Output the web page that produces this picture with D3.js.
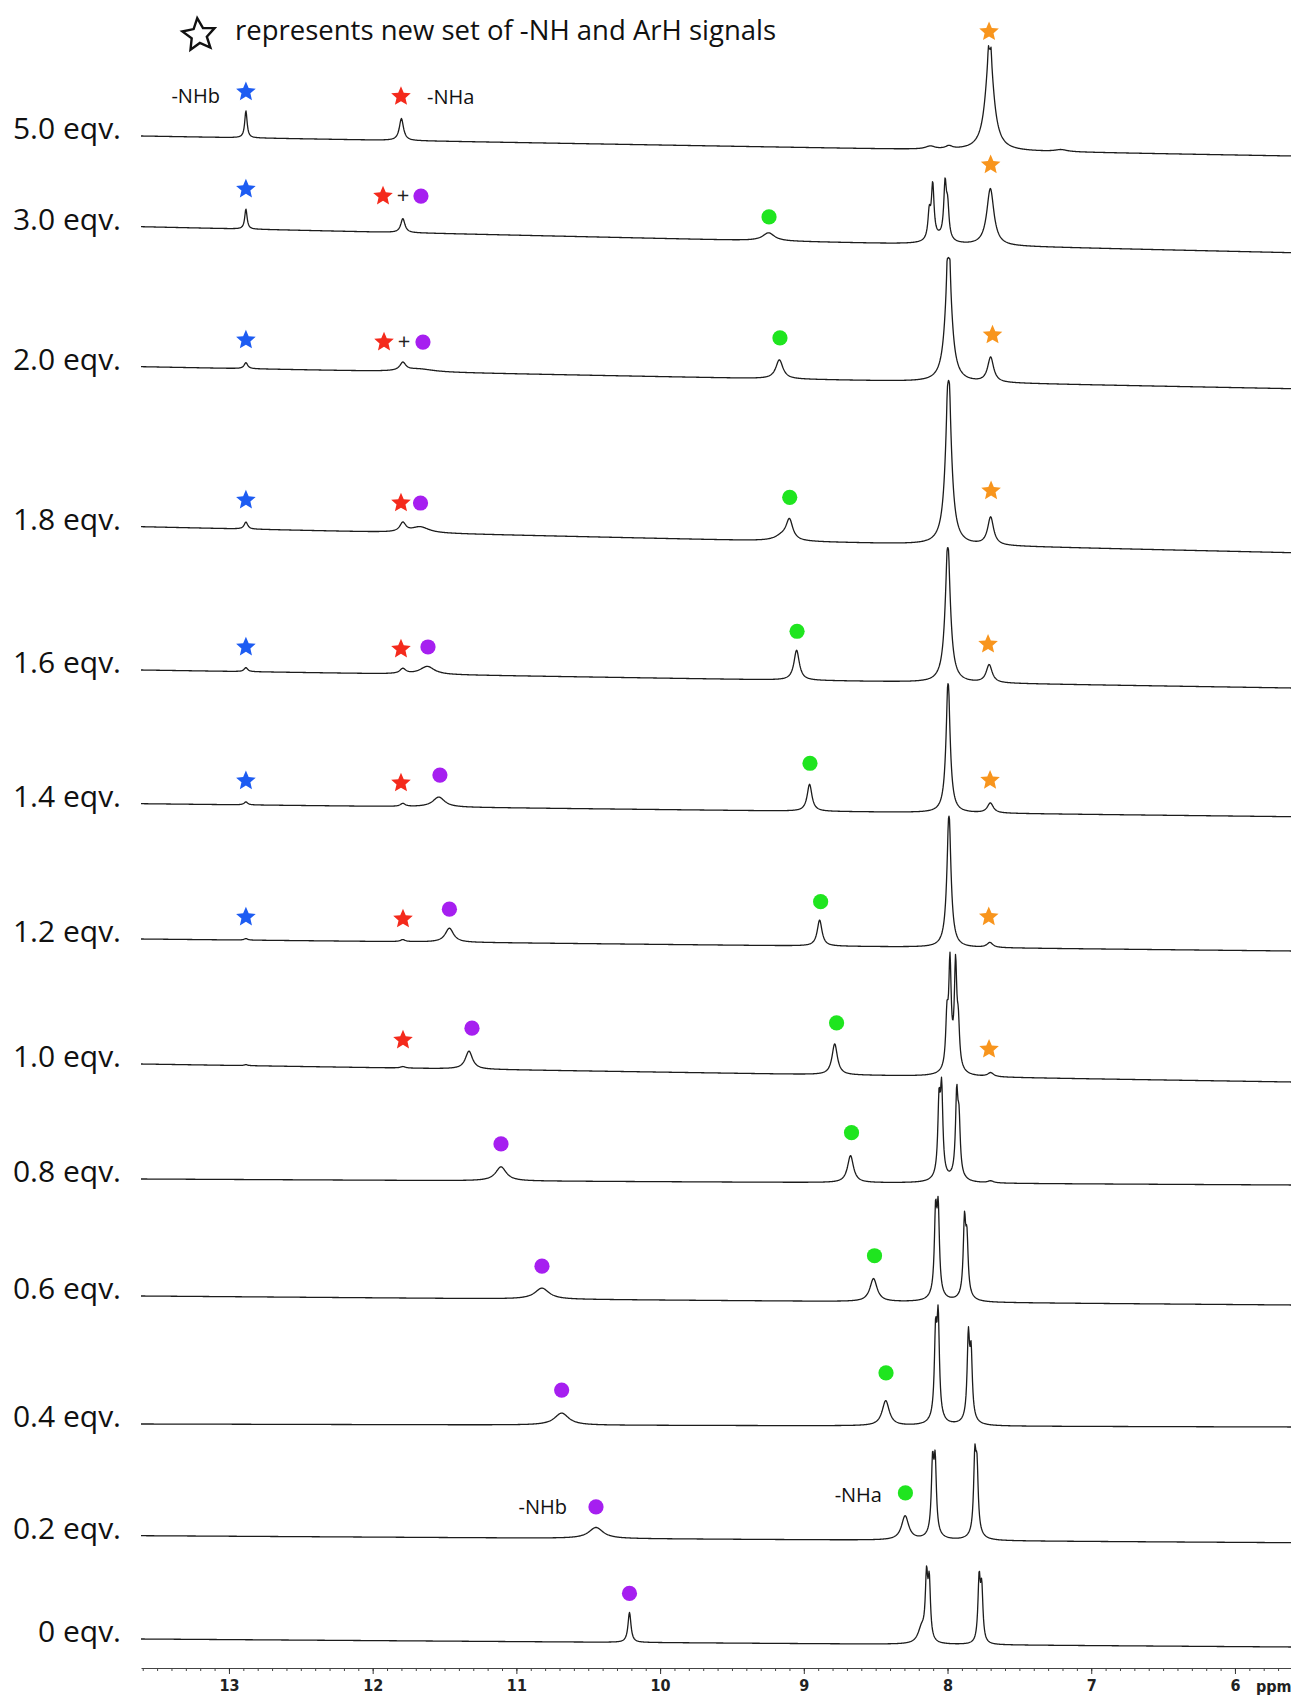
<!DOCTYPE html>
<html>
<head>
<meta charset="utf-8">
<script src="https://cdn.jsdelivr.net/npm/d3@7"></script>
<style>
  body { margin: 0; background: #fff; }
  svg { display: block; }
</style>
</head>
<body>
<svg id="chart" width="1291" height="1701"></svg>
<script>
// ---- data -----------------------------------------------------------------

// titration steps, top trace first
const titrationLabels = ["5.0 eqv.", "3.0 eqv.", "2.0 eqv.", "1.8 eqv.", "1.6 eqv.", "1.4 eqv.",
  "1.2 eqv.", "1.0 eqv.", "0.8 eqv.", "0.6 eqv.", "0.4 eqv.", "0.2 eqv.", "0 eqv."];

// resonances of each trace: [shift / ppm, intensity, line width / ppm]
const peaks5_0 = [[12.882, 27, 0.02], [11.800, 22, 0.035], [8.12, 3, 0.08], [7.99, 3, 0.06],
  [7.707, 98, 0.07], [7.716, 12, 0.008], [7.697, 12, 0.008], [7.21, 2, 0.1]];
const peaks3_0 = [[12.882, 20, 0.02], [11.79, 14, 0.035], [9.245, 8, 0.1], [8.127, 26, 0.022],
  [8.103, 53, 0.022], [8.017, 53, 0.022], [7.999, 30, 0.022], [8.06, 6, 0.15], [7.702, 57, 0.06]];
const peaks2_0 = [[12.882, 6, 0.03], [11.79, 8, 0.05], [11.68, 3, 0.25], [9.17, 19, 0.06],
  [7.993, 120, 0.055], [8.003, 16, 0.008], [7.983, 16, 0.008], [7.700, 25, 0.05]];
const peaks1_8 = [[12.882, 7, 0.03], [11.79, 9, 0.05], [11.67, 6, 0.15], [9.15, 5, 0.12],
  [9.10, 20, 0.055], [7.993, 160, 0.05], [8.002, 12, 0.008], [7.985, 12, 0.008], [7.700, 28, 0.05]];
const peaks1_6 = [[12.882, 4, 0.03], [11.79, 5, 0.05], [11.62, 8, 0.12], [9.05, 30, 0.045],
  [7.998, 130, 0.045], [8.004, 8, 0.008], [7.992, 8, 0.008], [7.710, 18, 0.05]];
const peaks1_4 = [[12.882, 3, 0.03], [11.79, 3, 0.04], [11.54, 10, 0.1], [8.96, 27, 0.04],
  [7.996, 126, 0.035], [8.001, 6, 0.006], [7.991, 6, 0.006], [7.702, 10, 0.05]];
const peaks1_2 = [[12.882, 1.5, 0.03], [11.79, 2, 0.04], [11.466, 14, 0.07], [8.89, 26, 0.04],
  [7.990, 128, 0.035], [7.995, 6, 0.006], [7.985, 6, 0.006], [7.705, 5, 0.05]];
const peaks1_0 = [[12.882, 1, 0.03], [11.79, 1.5, 0.04], [11.33, 18, 0.06], [8.785, 31, 0.045],
  [8.004, 48, 0.02], [7.983, 100, 0.02], [7.944, 98, 0.02], [7.925, 38, 0.02], [7.962, 10, 0.1],
  [7.70, 4, 0.05]];
const peaks0_8 = [[11.107, 14, 0.09], [8.675, 27, 0.05], [8.059, 70, 0.02], [8.041, 82, 0.02],
  [7.936, 78, 0.02], [7.920, 50, 0.02], [8.05, 5, 0.1], [7.93, 5, 0.1], [7.70, 2, 0.05]];
const peaks0_6 = [[10.822, 11, 0.12], [8.515, 23, 0.06], [8.083, 78, 0.02], [8.065, 80, 0.02],
  [7.882, 72, 0.02], [7.865, 52, 0.02], [8.074, 6, 0.1], [7.873, 5, 0.1]];
const peaks0_4 = [[10.685, 12, 0.12], [8.43, 25, 0.06], [8.083, 80, 0.02], [8.065, 95, 0.02],
  [7.855, 80, 0.02], [7.836, 62, 0.02], [8.074, 6, 0.1], [7.846, 5, 0.1]];
const peaks0_2 = [[10.446, 11, 0.12], [8.295, 24, 0.06], [8.104, 68, 0.02], [8.086, 68, 0.02],
  [7.810, 72, 0.02], [7.795, 60, 0.02], [8.095, 5, 0.1], [7.80, 5, 0.1]];
const peaks0_0 = [[10.213, 30, 0.025], [8.18, 15, 0.06], [8.146, 60, 0.02], [8.127, 56, 0.02],
  [7.780, 62, 0.02], [7.762, 51, 0.02]];

// baseline drift of each trace (intensity reached at the high-field end)
const baselineDrift = [-20, -26, -22, -26, -18, -13, -12, -18, -6, -9, -3, -7, -8];

// signal assignments: [shift / ppm, marker, level above baseline]
const marks5_0 = [[12.882, "blue", 46], [11.803, "red", 44], [7.711, "orange", 119]];
const marks3_0 = [[12.882, "blue", 40], [11.928, "red", 36], [11.789, "plus", 37], [11.664, "purple", 37],
  [9.242, "green", 24], [7.700, "orange", 81]];
const marks2_0 = [[12.882, "blue", 28.7], [11.921, "red", 29.3], [11.782, "plus", 30], [11.650, "purple", 30],
  [9.166, "green", 41], [7.687, "orange", 48]];
const marks1_8 = [[12.882, "blue", 29], [11.803, "red", 29.6], [11.667, "purple", 30],
  [9.098, "green", 44], [7.697, "orange", 55]];
const marks1_6 = [[12.882, "blue", 24.6], [11.803, "red", 25], [11.615, "purple", 27.5],
  [9.047, "green", 49], [7.718, "orange", 39]];
const marks1_4 = [[12.882, "blue", 24], [11.803, "red", 23.6], [11.532, "purple", 32],
  [8.957, "green", 48], [7.704, "orange", 33]];
const marks1_2 = [[12.882, "blue", 23], [11.789, "red", 22.7], [11.466, "purple", 33],
  [8.883, "green", 44.4], [7.713, "orange", 31]];
const marks1_0 = [[11.789, "red", 28], [11.309, "purple", 41], [8.772, "green", 52], [7.711, "orange", 28]];
const marks0_8 = [[11.107, "purple", 37], [8.668, "green", 50]];
const marks0_6 = [[10.822, "purple", 33], [8.508, "green", 46]];
const marks0_4 = [[10.685, "purple", 35], [8.428, "green", 53]];
const marks0_2 = [[10.446, "purple", 31.5], [8.293, "green", 47.4]];
const marks0_0 = [[10.213, "purple", 49]];

// proton labels: [trace index, text, shift / ppm, level]
const protonLabels = [[0, "-NHb", 13.063, 34.4], [0, "-NHa", 11.622, 37], [11, "-NHb", 10.648, 24.3], [11, "-NHa", 8.456, 38]];

const axisTicks = [13, 12, 11, 10, 9, 8, 7, 6];
const legendText = "represents new set of -NH and ArH signals";

// ---- layout ---------------------------------------------------------------

const peakSets = [peaks5_0, peaks3_0, peaks2_0, peaks1_8, peaks1_6, peaks1_4, peaks1_2,
  peaks1_0, peaks0_8, peaks0_6, peaks0_4, peaks0_2, peaks0_0];
const markSets = [marks5_0, marks3_0, marks2_0, marks1_8, marks1_6, marks1_4, marks1_2,
  marks1_0, marks0_8, marks0_6, marks0_4, marks0_2, marks0_0];
const traceBaseY = [136, 226.7, 366.7, 526.7, 670, 803.7, 939, 1064, 1179, 1296, 1424, 1535.7, 1639];
const anchorOf = ["end", "start", "end", "end"];

const W = 1291;
const svg = d3.select("#chart");
const ppmLeft = 13.612, ppmRight = 5.610;
const x = d3.scaleLinear().domain([ppmLeft, ppmRight]).range([141, W]);

const colors = { blue: "#1d5cf2", red: "#f42a1c", orange: "#f8951d", purple: "#a61ff0", green: "#1fe51f" };

function lorentz(p, pk) {
  const g = pk[2] / 2, d = p - pk[0];
  return pk[1] * g * g / (d * d + g * g);
}
function drift(i, p) {
  return baselineDrift[i] * (ppmLeft - p) / (ppmLeft - ppmRight);
}
function starPath(R, r) {
  const pts = d3.range(10).map(k => {
    const a = -Math.PI / 2 + k * Math.PI / 5, rad = k % 2 ? r : R;
    return [rad * Math.cos(a), rad * Math.sin(a)];
  });
  return d3.line()(pts) + "Z";
}

// ---- traces ---------------------------------------------------------------

const traces = svg.append("g");
peakSets.forEach((peaks, i) => {
  const y = d3.scaleLinear().domain([0, 100]).range([traceBaseY[i], traceBaseY[i] - 100]);
  const pts = [];
  for (let px = 141; px <= W; px += 0.5) {
    const p = x.invert(px);
    let s = drift(i, p);
    for (const pk of peaks) s += lorentz(p, pk);
    pts.push([p, s]);
  }
  traces.append("path")
    .attr("d", d3.line().x(d => x(d[0])).y(d => y(d[1]))(pts))
    .attr("fill", "none").attr("stroke", "#1c1c1c").attr("stroke-width", 1.3)
    .attr("stroke-linejoin", "round");

  // titration label
  svg.append("text")
    .attr("x", 121).attr("y", traceBaseY[i] + 3)
    .attr("text-anchor", "end")
    .attr("font-family", "'Open Sans', sans-serif").attr("font-size", 30)
    .attr("fill", "#111")
    .text(titrationLabels[i]);

  // assignment markers
  markSets[i].forEach(m => {
    const mx = x(m[0]), my = y(m[2] + drift(i, m[0]));
    if (m[1] === "plus") {
      svg.append("text").attr("x", mx).attr("y", my + 7).attr("text-anchor", "middle")
        .attr("font-family", "'Open Sans', sans-serif").attr("font-size", 22).attr("fill", "#222").text("+");
    } else if (m[1] === "purple" || m[1] === "green") {
      svg.append("circle").attr("cx", mx).attr("cy", my).attr("r", 7.6).attr("fill", colors[m[1]]);
    } else {
      svg.append("path").attr("d", starPath(10.3, 4.7))
        .attr("transform", `translate(${mx},${my})`).attr("fill", colors[m[1]]);
    }
  });
});

// proton labels
protonLabels.forEach((l, k) => {
  const i = l[0];
  const y = d3.scaleLinear().domain([0, 100]).range([traceBaseY[i], traceBaseY[i] - 100]);
  svg.append("text")
    .attr("x", x(l[2])).attr("y", y(l[3] + drift(i, l[2])))
    .attr("text-anchor", anchorOf[k])
    .attr("font-family", "'Open Sans', sans-serif").attr("font-size", 20).attr("fill", "#111")
    .text(l[1]);
});

// ---- legend ---------------------------------------------------------------

svg.append("path").attr("d", starPath(17, 8))
  .attr("transform", "translate(199,35) rotate(-6)")
  .attr("fill", "none").attr("stroke", "#111").attr("stroke-width", 2.4).attr("stroke-linejoin", "miter");
svg.append("text").attr("x", 235).attr("y", 40)
  .attr("font-family", "'Open Sans', sans-serif").attr("font-size", 27.5).attr("fill", "#111")
  .text(legendText);

// ---- chemical shift axis --------------------------------------------------

const axisY = 1668;
const axisFont = "'Liberation Sans Narrow', 'DejaVu Sans Condensed', 'DejaVu Sans', sans-serif";
const minorTicks = d3.range(56, 137).map(v => v / 10);
svg.append("g").attr("transform", `translate(0,${axisY})`)
  .call(d3.axisBottom(x).tickValues(minorTicks).tickSize(3).tickSizeOuter(0).tickFormat(""))
  .call(g => g.selectAll("path,line").attr("stroke", "#444"));
const major = svg.append("g").attr("transform", `translate(0,${axisY})`)
  .call(d3.axisBottom(x).tickValues(axisTicks).tickSize(6).tickSizeOuter(0).tickPadding(6).tickFormat(d3.format("d")));
major.select(".domain").remove();
major.selectAll("line").attr("stroke", "#333");
major.selectAll("text").attr("font-family", axisFont).attr("font-weight", "bold")
  .attr("font-size", 16).attr("fill", "#222");
svg.append("text").attr("x", 1256).attr("y", axisY + 24)
  .attr("font-family", axisFont).attr("font-weight", "bold")
  .attr("font-size", 16).attr("fill", "#222").text("ppm");
</script>
</body>
</html>
